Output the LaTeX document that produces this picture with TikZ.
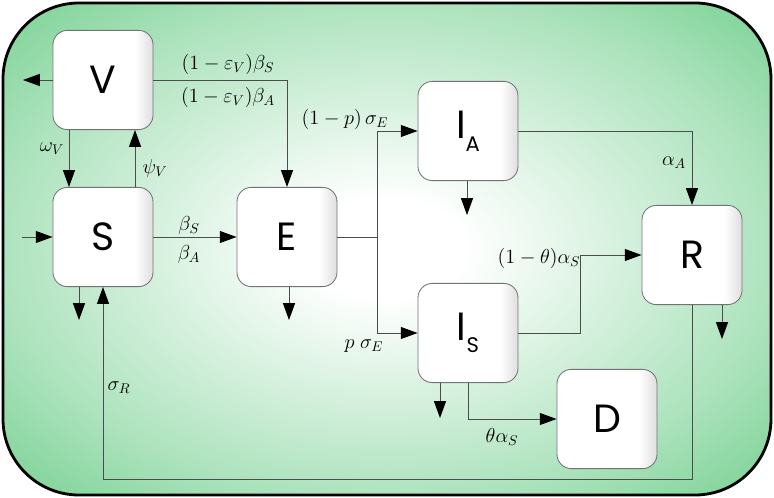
\documentclass[tikz,border=0pt]{standalone}
\usepackage{amsmath,amssymb}
\usepackage{fontspec}
\newfontfamily\boxfont{Poppins}
\usepackage{tikz}
\usetikzlibrary{calc, arrows.meta, shapes, backgrounds}

\definecolor{bggreen}{RGB}{124,210,150}
\pgfdeclareradialshading{bgshade}{\pgfpoint{0bp}{0bp}}{color(0bp)=(white); color(5bp)=(white); color(25bp)=(bggreen!62!white); color(35bp)=(bggreen); color(50bp)=(bggreen)}
\pgfdeclarehorizontalshading{compshade}{100bp}{color(0bp)=(white); color(66bp)=(white); color(75bp)=(black!13); color(100bp)=(black!13)}

\begin{document}
\begin{tikzpicture}[x=0.025cm, y=-0.025cm]
  \tikzstyle{comp}=[draw=black!55, line width=0.6pt, rounded corners=0.36cm, shade, shading=compshade, minimum width=2.5cm, minimum height=2.48cm, inner sep=0pt, font=\boxfont\fontsize{28}{28}\selectfont]
  \tikzstyle{flow}=[draw=black!70, line width=0.6pt, -{Triangle[length=0.42cm,width=0.3cm,color=black]}]
  \tikzstyle{rate}=[font=\fontsize{14}{16}\selectfont, inner sep=1pt]

  \useasboundingbox (0,0) rectangle (774,498);
  \shadedraw[shading=bgshade, draw=black, line width=2pt, rounded corners=1.9cm] (3,3) rectangle (771,495);

  % compartments
  \node (V) [comp] at (103,80) {V};
  \node (S) [comp] at (103,237) {S};
  \node (E) [comp] at (287,237) {E};
  \node (IA) [comp] at (468,131) {I\raisebox{-9pt}{\fontsize{15}{15}\selectfont A}};
  \node (IS) [comp] at (468,333) {I\raisebox{-9pt}{\fontsize{15}{15}\selectfont S}};
  \node (R) [comp] at (692,255) {R};
  \node (D) [comp] at (607,419) {D};

  % free ends and bends
  \coordinate (Vout) at (23,80);
  \coordinate (Sin) at (22,237);
  \coordinate (Sout) at (79,320);
  \coordinate (Eout) at (289,320);
  \coordinate (IAout) at (467,215);
  \coordinate (ISout) at (440,418);
  \coordinate (Rout) at (722,339);
  \coordinate (split) at (377,237);
  \coordinate (ISbend) at (580,333);
  \coordinate (loop) at (103,479);

  \draw[flow] (V.west) -- (Vout);
  \draw[flow] (Sin) -- (S.west);
  \draw[flow] ([xshift=-0.85cm]V.south) -- ([xshift=-0.85cm]S.north);
  \draw[flow] ([xshift=0.8cm]S.north) -- ([xshift=0.8cm]V.south);
  \draw[flow] (V.east) -| (E.north);
  \draw[flow] (S.east) -- (E.west);
  \draw[flow] (S.south -| Sout) -- (Sout);
  \draw[flow] (E.south -| Eout) -- (Eout);
  \draw[flow, -] (E.east) -- (split);
  \draw[flow] (split) |- (IA.west);
  \draw[flow] (split) |- (IS.west);
  \draw[flow] (IA.south -| IAout) -- (IAout);
  \draw[flow] (IA.east) -| (R.north);
  \draw[flow] (IS.east) -- (ISbend) |- (R.west);
  \draw[flow] (IS.south -| ISout) -- (ISout);
  \draw[flow] (IS.south) |- (D.west);
  \draw[flow] (R.south -| Rout) -- (Rout);
  \draw[flow] (R.south) |- (loop) -- (S.south);

  % rates
  \node (lVS) [rate] at (228,64) {$(1-\varepsilon_V)\beta_S$};
  \node (lVA) [rate] at (228,97) {$(1-\varepsilon_V)\beta_A$};
  \node (lw) [rate] at (52,149) {$\omega_V$};
  \node (lpsi) [rate] at (155,168) {$\psi_V$};
  \node (lbS) [rate] at (189,225) {$\beta_S$};
  \node (lbA) [rate] at (189,254) {$\beta_A$};
  \node (lpE) [rate] at (345,119) {$(1-p)\,\sigma_E$};
  \node (lpsE) [rate] at (364,346) {$p\;\sigma_E$};
  \node (laA) [rate] at (674,163) {$\alpha_A$};
  \node (ltS) [rate] at (539,258) {$(1-\theta)\alpha_S$};
  \node (lthS) [rate] at (502,437) {$\theta\alpha_S$};
  \node (lsR) [rate] at (119,388) {$\sigma_R$};

\end{tikzpicture}
\end{document}
